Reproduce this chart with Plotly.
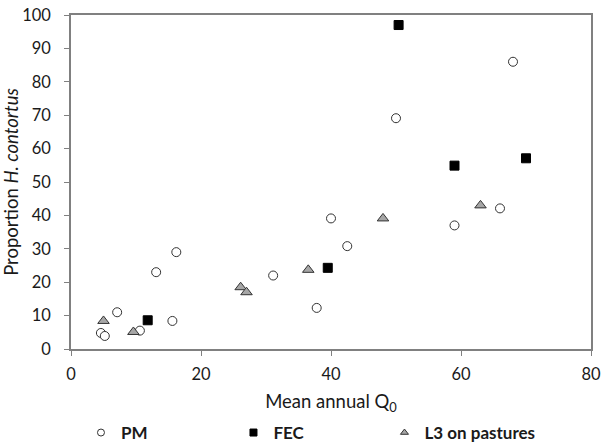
import plotly.graph_objects as go

pm_x = [4.6, 5.2, 7.1, 10.6, 15.6, 13.1, 16.2, 31.1, 37.8, 40.0, 42.5, 50.0, 59.0, 66.0, 68.0]
pm_y = [4.8, 3.9, 11.0, 5.5, 8.4, 23.0, 29.0, 22.0, 12.3, 39.1, 30.8, 69.1, 37.0, 42.1, 86.0]

fec_x = [11.8, 39.5, 50.4, 59.0, 70.0]
fec_y = [8.6, 24.3, 97.0, 54.9, 57.1]

l3_x = [5.0, 9.6, 26.1, 27.0, 36.5, 48.0, 63.0]
l3_y = [8.4, 5.1, 18.5, 17.0, 23.7, 39.1, 43.0]

x_ticks = [0, 20, 40, 60, 80]
y_ticks = [0, 10, 20, 30, 40, 50, 60, 70, 80, 90, 100]

FONT = "Lato, 'Open Sans', sans-serif"

fig = go.Figure()
fig.add_trace(go.Scatter(x=pm_x, y=pm_y, mode="markers", name="PM", showlegend=False,
                         marker=dict(symbol="circle", size=9, color="white",
                                     line=dict(color="#333333", width=1))))
fig.add_trace(go.Scatter(x=fec_x, y=fec_y, mode="markers", name="FEC", showlegend=False,
                         marker=dict(symbol="square", size=9, color="black",
                                     line=dict(color="black", width=1))))
fig.add_trace(go.Scatter(x=l3_x, y=l3_y, mode="markers", name="L3 on pastures", showlegend=False,
                         marker=dict(symbol="triangle-up", size=10, color="#a6a6a6",
                                     line=dict(color="#333333", width=1))))
# legend entries (smaller symbols), each in its own legend for exact placement
fig.add_trace(go.Scatter(x=[None], y=[None], mode="markers", name="<b>PM</b>", legend="legend",
                         marker=dict(symbol="circle", size=7, color="white",
                                     line=dict(color="#333333", width=1))))
fig.add_trace(go.Scatter(x=[None], y=[None], mode="markers", name="<b>FEC</b>", legend="legend2",
                         marker=dict(symbol="square", size=7, color="black",
                                     line=dict(color="black", width=1))))
fig.add_trace(go.Scatter(x=[None], y=[None], mode="markers", name="<b>L3 on pastures</b>",
                         legend="legend3",
                         marker=dict(symbol="triangle-up", size=7, color="#a6a6a6",
                                     line=dict(color="#333333", width=1))))

axis_common = dict(showline=True, linecolor="#808080", linewidth=1.5, mirror=True,
                   ticks="outside", ticklen=5, tickcolor="#808080", showgrid=False,
                   zeroline=False, automargin=False,
                   tickfont=dict(size=16.5, color="#1a1a1a", family=FONT))

leg_common = dict(orientation="h", xref="container", yref="container",
                  xanchor="left", yanchor="middle", y=0.0226, itemwidth=30,
                  bgcolor="rgba(0,0,0,0)",
                  font=dict(size=17, color="#1a1a1a", family=FONT))

fig.update_layout(
    width=603, height=443,
    margin=dict(l=71, r=12, t=15, b=94),
    paper_bgcolor="white", plot_bgcolor="white",
    font=dict(family=FONT, color="#1a1a1a"),
    xaxis=dict(range=[0, 80], tickvals=x_ticks, ticklabelstandoff=4,
               title=dict(text="Mean annual Q<sub>0</sub>", font=dict(size=18.5), standoff=15),
               **axis_common),
    yaxis=dict(range=[0, 100], tickvals=y_ticks, ticklabelstandoff=10,
               title=dict(text="Proportion <i>H. contortus</i>", font=dict(size=18.5), standoff=8),
               **axis_common),
    legend=dict(x=0.1343, **leg_common),
    legend2=dict(x=0.3872, **leg_common),
    legend3=dict(x=0.6376, **leg_common),
)

fig.write_html("out.html", config={"displayModeBar": False},
               post_script="document.body.style.margin='0px';document.body.style.padding='0px';")
